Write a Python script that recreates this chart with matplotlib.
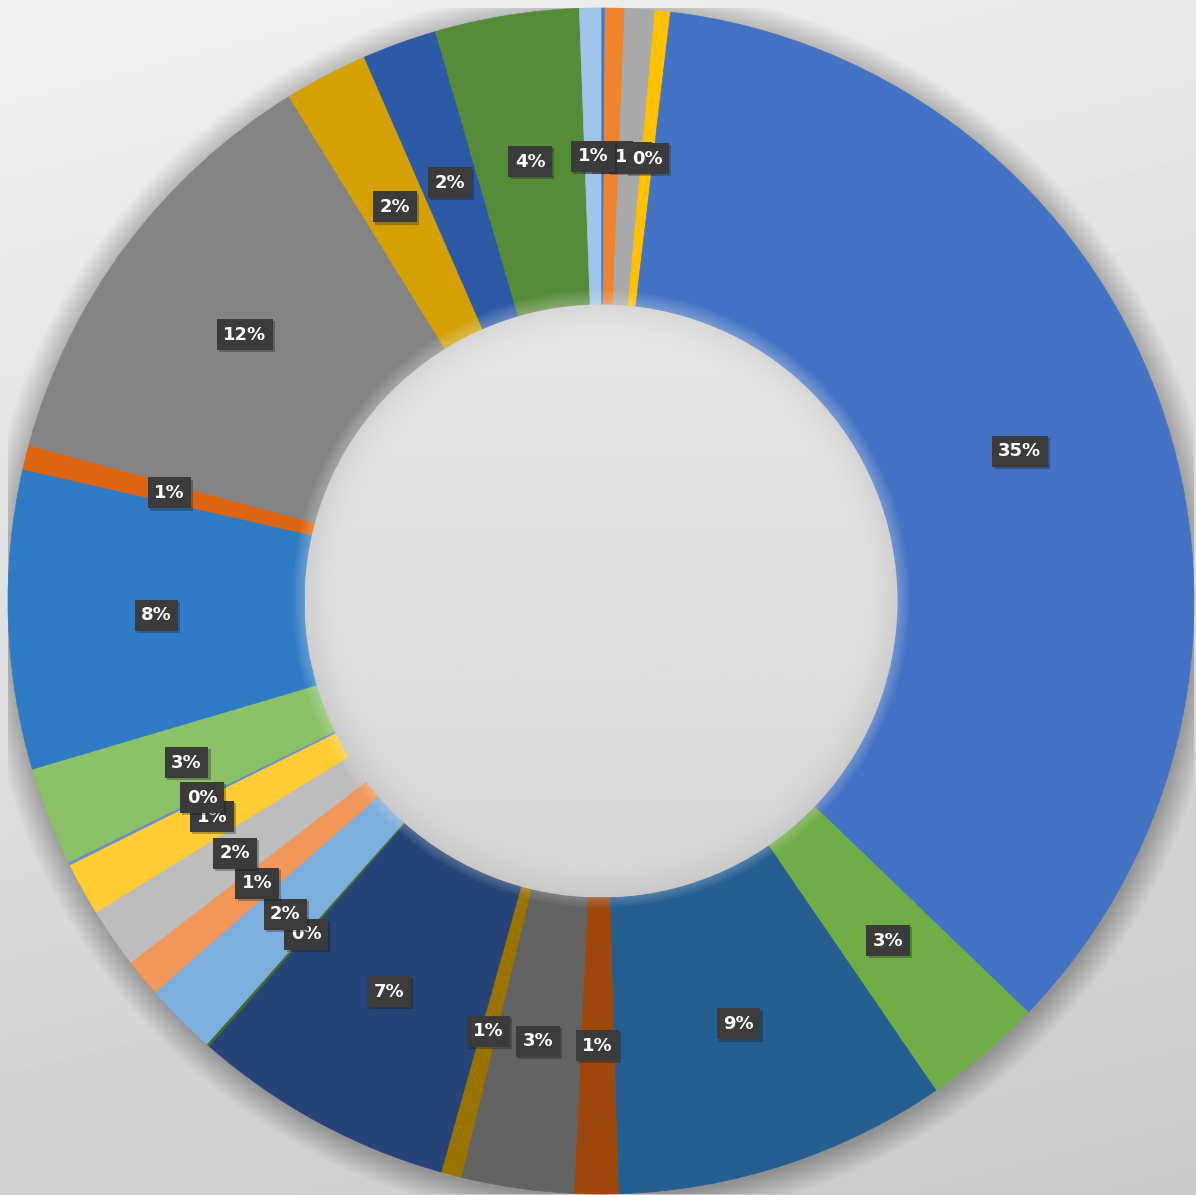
import numpy as np
import matplotlib.pyplot as plt
import matplotlib.patheffects as pe
from matplotlib.patches import Circle

# share of each slice in %, clockwise from 12 o'clock
shares = [0.11, 0.53, 0.81, 0.42, 35.31, 3.25, 9.08, 1.19, 3.06, 0.56,
          7.14, 0.08, 1.97, 1.03, 1.64, 1.45, 0.08, 2.68, 8.14, 0.67,
          11.94, 2.28, 2.03, 3.92, 0.58]
colors = ["#3a7cc9", "#f0832e", "#a9a9a9", "#ffc000", "#4472c4", "#70ad47",
          "#255e91", "#9e480e", "#636363", "#997300", "#264478", "#43682b",
          "#7cafdd", "#f1975a", "#bdbdbd", "#ffcd33", "#698ed0", "#8cc168",
          "#2f7cc4", "#dd6512", "#848484", "#d4a004", "#2e59a6", "#568b39",
          "#a0c4ea"]

W, H = 1196, 1195
fig = plt.figure(figsize=(W / 100, H / 100), dpi=100)

# grey backdrop, lighter at the top
bg = fig.add_axes([0, 0, 1, 1])
bg.axis("off")
yy, xx = np.mgrid[0:1:300j, 0:1:300j]
grad = 0.94 - 0.12 * yy - 0.03 * xx
bg.imshow(grad, cmap="gray", vmin=0, vmax=1, extent=[0, 1, 0, 1],
          aspect="auto", origin="upper")

R = 593
ax = fig.add_axes([(601 - R) / W, (H - 601 - R) / H, 2 * R / W, 2 * R / H])
ax.axis("off")

# soft shadow around the ring
for k in range(30):
    ax.add_patch(Circle((0.002, -0.006), 1 + 0.0016 * k, color="black",
                        alpha=0.006, lw=0, zorder=0))

wedges, texts, autotexts = ax.pie(
    shares, colors=colors, startangle=90, counterclock=False, radius=1,
    autopct=lambda p: f"{p:.0f}%", pctdistance=0.75,
    wedgeprops=dict(width=0.5, linewidth=0.5),
    textprops=dict(color="white", fontsize=13, fontweight="bold"))
for w in wedges:
    w.set_edgecolor(w.get_facecolor())

for t in autotexts:
    t.set_bbox(dict(boxstyle="square,pad=0.36", facecolor="#3b3b3b",
                    edgecolor="none"))
    t.get_bbox_patch().set_path_effects(
        [pe.SimplePatchShadow(offset=(1.5, -1.5), alpha=0.3), pe.Normal()])
    t.set_zorder(5)

# the hole in the middle
hole = Circle((0, 0), 0.5, facecolor="none", edgecolor="none", zorder=3)
ax.add_patch(hole)
hy, hx = np.mgrid[0.5:-0.5:400j, -0.5:0.5:400j]
rr = np.sqrt(hx ** 2 + hy ** 2) / 0.5
shade = 0.872 + 0.03 * (hy / 0.5) - 0.06 * np.clip((rr - 0.86) / 0.14, 0, 1) ** 2
img = ax.imshow(shade, cmap="gray", vmin=0, vmax=1,
                extent=[-0.5, 0.5, -0.5, 0.5], zorder=3, interpolation="bilinear")
img.set_clip_path(hole)
for k in range(6):
    ax.add_patch(Circle((0, 0.004), 0.5 + 0.004 * k, color="white",
                        alpha=0.05, lw=0, zorder=2.5))

ax.set_xlim(-1, 1)
ax.set_ylim(-1, 1)
ax.set_aspect("auto")

fig.savefig("out.png", dpi=100)
